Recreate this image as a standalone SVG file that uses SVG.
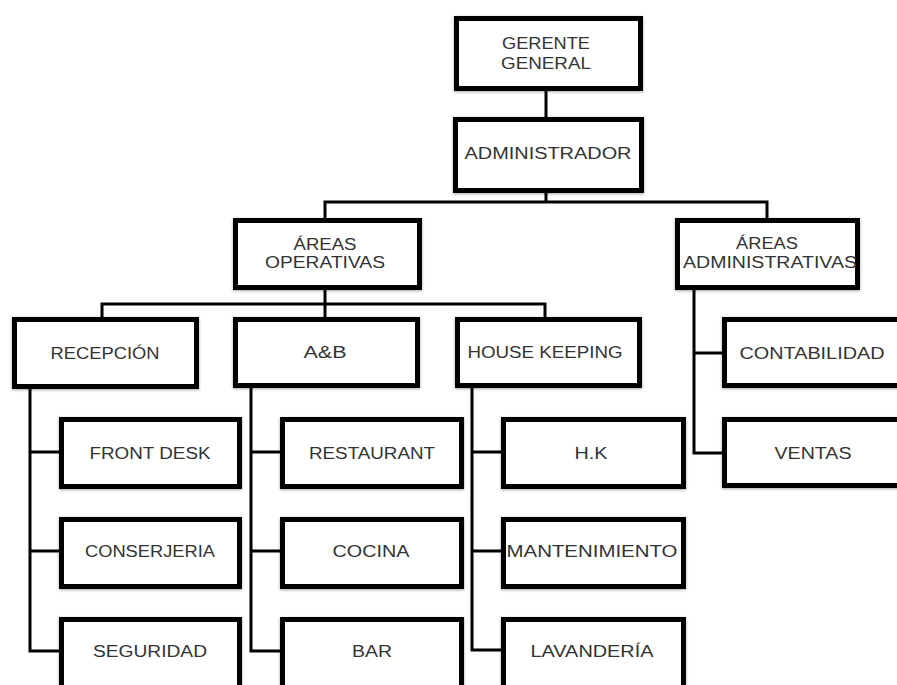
<svg xmlns="http://www.w3.org/2000/svg" width="897" height="685" viewBox="0 0 897 685">
<style>
.box{fill:#fff;stroke:#000;stroke-width:5;filter:url(#sh)}
.t{font-family:"Liberation Sans",Arial,sans-serif;font-size:16px;fill:#333;text-anchor:middle;lengthAdjust:spacingAndGlyphs}
.c{fill:none;stroke:#000;stroke-width:3}
</style>
<defs>
<filter id="sh" x="-10%" y="-10%" width="120%" height="130%">
<feDropShadow dx="0" dy="1" stdDeviation="1.5" flood-color="#000" flood-opacity="0.35"/>
</filter>
</defs>
<rect width="897" height="685" fill="#fff"/>
<g id="connectors">
<path class="c" d="M546 91V117M546 193V202M325 218V202H767V218"/>
<path class="c" d="M325 290V304M102 317V304H545V317M325 304V317"/>
<path class="c" d="M30 389V651H59M30 452H59M30 551H59"/>
<path class="c" d="M251 388V651H280M251 452H280M251 551H280"/>
<path class="c" d="M472 388V650H501M472 452H501M472 551H501"/>
<path class="c" d="M694 290V453H722M694 353H722"/>
</g>
<g id="gerente"><rect class="box" x="456.5" y="18.5" width="184" height="70"/>
<text class="t" x="546" y="49" textLength="88" lengthAdjust="spacingAndGlyphs">GERENTE</text>
<text class="t" x="546" y="69" textLength="90" lengthAdjust="spacingAndGlyphs">GENERAL</text></g>
<g id="administrador"><rect class="box" x="455.5" y="119.5" width="186" height="71"/>
<text class="t" x="548" y="159" textLength="167" lengthAdjust="spacingAndGlyphs">ADMINISTRADOR</text></g>
<g id="areas-operativas"><rect class="box" x="235.5" y="220.5" width="184" height="67"/>
<text class="t" x="325" y="250" textLength="63" lengthAdjust="spacingAndGlyphs">ÁREAS</text>
<text class="t" x="325" y="268" textLength="120" lengthAdjust="spacingAndGlyphs">OPERATIVAS</text></g>
<g id="areas-administrativas"><rect class="box" x="677.5" y="220.5" width="180" height="67"/>
<text class="t" x="767" y="249" textLength="62" lengthAdjust="spacingAndGlyphs">ÁREAS</text>
<text class="t" x="770" y="268" textLength="174" lengthAdjust="spacingAndGlyphs">ADMINISTRATIVAS</text></g>
<g id="recepcion"><rect class="box" x="14.5" y="319.5" width="182" height="67"/>
<text class="t" x="105" y="359" textLength="109" lengthAdjust="spacingAndGlyphs">RECEPCIÓN</text></g>
<g id="ayb"><rect class="box" x="235.5" y="319.5" width="182" height="66"/>
<text class="t" x="325" y="358" textLength="43" lengthAdjust="spacingAndGlyphs">A&amp;B</text></g>
<g id="housekeeping"><rect class="box" x="457.5" y="319.5" width="182" height="66"/>
<text class="t" x="545" y="358" textLength="155" lengthAdjust="spacingAndGlyphs">HOUSE KEEPING</text></g>
<g id="contabilidad"><rect class="box" x="724.5" y="319.5" width="200" height="66"/>
<text class="t" x="812" y="359" textLength="145" lengthAdjust="spacingAndGlyphs">CONTABILIDAD</text></g>
<g id="frontdesk"><rect class="box" x="61.5" y="419.5" width="178" height="67"/>
<text class="t" x="150" y="459" textLength="121" lengthAdjust="spacingAndGlyphs">FRONT DESK</text></g>
<g id="conserjeria"><rect class="box" x="61.5" y="519.5" width="178" height="67"/>
<text class="t" x="150" y="557" textLength="130" lengthAdjust="spacingAndGlyphs">CONSERJERIA</text></g>
<g id="seguridad"><rect class="box" x="61.5" y="619.5" width="178" height="100"/>
<text class="t" x="150" y="657" textLength="114" lengthAdjust="spacingAndGlyphs">SEGURIDAD</text></g>
<g id="restaurant"><rect class="box" x="282.5" y="419.5" width="179" height="67"/>
<text class="t" x="372" y="459" textLength="126" lengthAdjust="spacingAndGlyphs">RESTAURANT</text></g>
<g id="cocina"><rect class="box" x="282.5" y="519.5" width="179" height="67"/>
<text class="t" x="371" y="557" textLength="77" lengthAdjust="spacingAndGlyphs">COCINA</text></g>
<g id="bar"><rect class="box" x="282.5" y="619.5" width="179" height="100"/>
<text class="t" x="372" y="657" textLength="40" lengthAdjust="spacingAndGlyphs">BAR</text></g>
<g id="hk"><rect class="box" x="503.5" y="419.5" width="180" height="67"/>
<text class="t" x="591" y="459" textLength="33" lengthAdjust="spacingAndGlyphs">H.K</text></g>
<g id="mantenimiento"><rect class="box" x="503.5" y="519.5" width="180" height="67"/>
<text class="t" x="592" y="557" textLength="171" lengthAdjust="spacingAndGlyphs">MANTENIMIENTO</text></g>
<g id="lavanderia"><rect class="box" x="503.5" y="619.5" width="180" height="100"/>
<text class="t" x="592" y="657" textLength="123" lengthAdjust="spacingAndGlyphs">LAVANDERÍA</text></g>
<g id="ventas"><rect class="box" x="724.5" y="419.5" width="200" height="66"/>
<text class="t" x="813" y="459" textLength="77" lengthAdjust="spacingAndGlyphs">VENTAS</text></g>
</svg>
